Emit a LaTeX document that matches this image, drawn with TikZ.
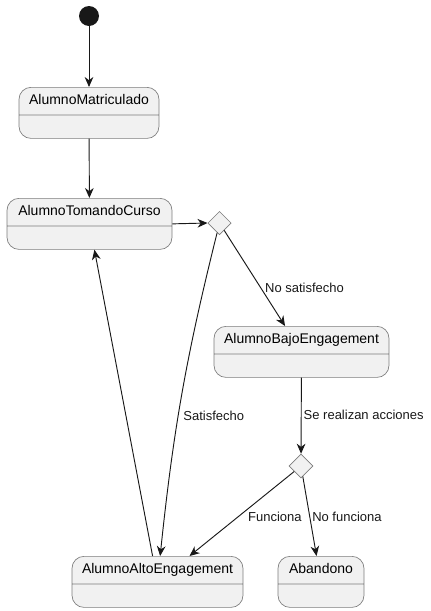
\documentclass[tikz,border=0pt]{standalone}
\usepackage{fontspec}
\setmainfont{Liberation Sans}
\usepackage{xcolor}
\usepackage{tikz}
\usetikzlibrary{arrows.meta,shapes.geometric,shapes.multipart}
\definecolor{ink}{HTML}{181818}
\definecolor{rulegray}{HTML}{7C7C7C}
\definecolor{softgray}{HTML}{F1F1F1}

\begin{document}
\begin{tikzpicture}[x=0.75pt, y=-0.75pt, every node/.style={font=\fontsize{9.75}{11}\selectfont}, state/.style={rectangle split,rectangle split parts=2,draw=rulegray,fill=softgray,line width=.5pt,rounded corners=9pt,font=\fontsize{10.5}{12}\selectfont,text height=7.8pt,text depth=2.2pt,inner ysep=5.1pt,rectangle split empty part height=6.9pt,anchor=north}, choice/.style={diamond,draw=rulegray,fill=softgray,line width=.5pt,inner sep=0pt,minimum size=17.5pt}, flow/.style={-{Stealth[length=7.5pt,width=6.5pt,inset=2.4pt]},draw=ink,line width=.7pt}, lbl/.style={text=ink,inner xsep=1.5pt}]
\useasboundingbox (0,0) rectangle (430,611);
\node[circle,fill=ink,inner sep=0pt,minimum size=15pt] (ini) at (89,16) {};
\node[state,minimum width=105pt] (ma) at (89,87) {AlumnoMatriculado\nodepart{two}};
\node[state,minimum width=123.75pt] (tc) at (89.5,198) {AlumnoTomandoCurso\nodepart{two}};
\node[choice] (d1) at (219.5,223) {};
\node[state,minimum width=131.25pt] (be) at (301.5,326) {AlumnoBajoEngagement\nodepart{two}};
\node[choice,minimum size=18pt] (d2) at (301,466) {};
\node[state,minimum width=128.25pt] (ae) at (157.5,556) {AlumnoAltoEngagement\nodepart{two}};
\node[state,minimum width=64.5pt] (ab) at (321,556) {Abandono\nodepart{two}};
\foreach \x/\y in {ini/ma,ma/tc,ae/tc}{\draw[flow] (\x)--(\y);}
\draw[flow] (tc.east)--(d1.west);
\draw[flow] (d1)--(be) node[lbl,right,pos=0.6,inner xsep=3pt] {No satisfecho};
\draw[flow] (d1) to[bend right=4] node[lbl,right,pos=0.575,inner xsep=3.5pt] {Satisfecho} (ae);
\draw[flow] (be)--(d2) node[lbl,right,pos=0.49] {Se realizan acciones};
\draw[flow] (d2)--(ae) node[lbl,right,pos=0.54,xshift=6pt] {Funciona};
\draw[flow] (d2)--(ab) node[lbl,right,pos=0.51] {No funciona};
\end{tikzpicture}
\end{document}
